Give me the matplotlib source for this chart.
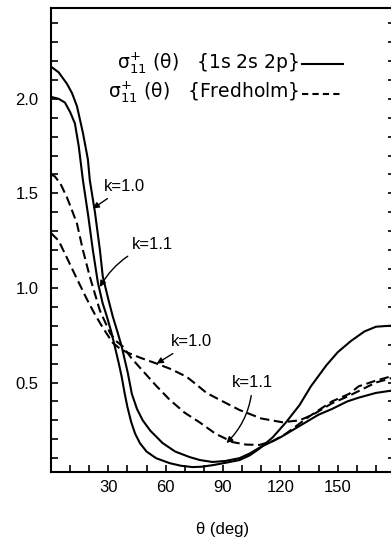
import numpy as np
import matplotlib
matplotlib.use("Agg")
import matplotlib.pyplot as plt

plt.rcParams['font.family'] = ['Liberation Sans', 'DejaVu Sans']
plt.rcParams['mathtext.fontset'] = 'dejavusans'

# sigma_11^+(theta), 1s 2s 2p basis
th_s10 = [0, 4, 8.3, 11, 13.6, 16.7, 19.3, 20.3, 23, 25.6, 27.1, 30, 32.3, 35, 37, 40.2, 42.3, 45, 48, 52, 58.4, 65, 72.5, 78, 84.5, 91, 98.6, 104, 109, 120, 130, 140, 147, 155, 161, 170, 180]
s10 = [2.17, 2.14, 2.08, 2.03, 1.96, 1.82, 1.68, 1.57, 1.40, 1.20, 1.06, 0.94, 0.85, 0.76, 0.69, 0.55, 0.44, 0.36, 0.30, 0.245, 0.18, 0.135, 0.106, 0.09, 0.08, 0.085, 0.10, 0.125, 0.155, 0.21, 0.27, 0.33, 0.36, 0.40, 0.42, 0.445, 0.46]
th_s11 = [0, 4, 7.3, 10, 12.5, 14.5, 16.7, 19.5, 21.9, 24.5, 27, 29.2, 31.5, 33.4, 35.5, 37, 38.6, 40, 42, 44, 46.5, 50, 55, 62, 68, 74, 79, 84.5, 91, 98.6, 104, 109, 116, 123, 130, 136, 144, 150, 157, 164, 170, 177, 180]
s11 = [2.01, 2.00, 1.98, 1.93, 1.87, 1.75, 1.57, 1.38, 1.20, 1.03, 0.92, 0.85, 0.77, 0.69, 0.60, 0.53, 0.44, 0.37, 0.29, 0.23, 0.18, 0.135, 0.10, 0.074, 0.06, 0.053, 0.055, 0.063, 0.075, 0.09, 0.115, 0.15, 0.21, 0.29, 0.38, 0.48, 0.59, 0.66, 0.72, 0.77, 0.795, 0.80, 0.80]

# Fredholm
th_f10 = [0, 4, 8.3, 13, 18.8, 23, 27.1, 32.3, 36, 39.6, 47, 55.3, 63, 71, 76, 81.4, 88, 98.6, 110, 121, 130, 137, 147, 156, 163, 170, 177, 180]
f10 = [1.29, 1.25, 1.16, 1.06, 0.94, 0.86, 0.79, 0.71, 0.68, 0.66, 0.63, 0.60, 0.57, 0.53, 0.49, 0.445, 0.41, 0.355, 0.31, 0.29, 0.30, 0.33, 0.39, 0.43, 0.465, 0.50, 0.52, 0.53]
th_f11 = [0, 2, 5, 8.3, 11, 13.6, 16.7, 20.3, 25.6, 31, 34, 37.6, 42, 46.4, 55.3, 62, 70, 77.7, 86, 95, 102, 109, 116, 123, 135, 147, 156, 161, 170, 177, 180]
f11 = [1.60, 1.59, 1.55, 1.48, 1.41, 1.34, 1.20, 1.06, 0.88, 0.76, 0.72, 0.69, 0.63, 0.58, 0.48, 0.41, 0.34, 0.29, 0.23, 0.185, 0.172, 0.17, 0.19, 0.23, 0.32, 0.40, 0.44, 0.48, 0.51, 0.53, 0.535]

xticks = [30, 60, 90, 120, 150]
yticks = [0.5, 1.0, 1.5, 2.0]

fig = plt.figure(figsize=(3.91, 5.42), dpi=100)
ax = fig.add_axes([51/391, 70/542, 344/391, 464/542])

lw = 1.5
ax.plot(th_s10, s10, color='black', lw=lw)
ax.plot(th_s11, s11, color='black', lw=lw)
ax.plot(th_f10, f10, color='black', lw=lw, dashes=(4.5, 2.2))
ax.plot(th_f11, f11, color='black', lw=lw, dashes=(4.5, 2.2))

ax.set_xlim(0, 180)
ax.set_ylim(0.027, 2.48)
ax.set_xticks(xticks)
ax.set_xticks(np.arange(10, 180, 10), minor=True)
ax.set_yticks(yticks)
ax.set_yticks(np.arange(0.1, 2.45, 0.1), minor=True)
ax.set_yticklabels(['%.1f' % v for v in yticks])
ax.tick_params(which='both', direction='in', length=5, width=1.2,
               right=True, top=False, labelsize=12)
ax.tick_params(axis='y', pad=9)
ax.tick_params(axis='x', pad=6)
for s in ax.spines.values():
    s.set_linewidth(1.5)

ax.set_xlabel('θ (deg)', fontsize=12)
ax.xaxis.set_label_coords(0.5, -0.108)

# legend drawn as text + sample lines
ax.text(0.722, 0.882, 'σ$_{11}^{+}$ (θ)   {1s 2s 2p}', transform=ax.transAxes,
        ha='right', va='center', fontsize=13.5, family='DejaVu Sans')
ax.text(0.722, 0.819, 'σ$_{11}^{+}$ (θ)   {Fredholm}', transform=ax.transAxes,
        ha='right', va='center', fontsize=13.5, family='DejaVu Sans')
ax.plot([0.730, 0.849], [0.879, 0.879], transform=ax.transAxes, color='black', lw=lw)
ax.plot([0.730, 0.849], [0.815, 0.815], transform=ax.transAxes, color='black', lw=lw, dashes=(3, 2))

arr = dict(arrowstyle='-|>', color='black', lw=1, mutation_scale=9, shrinkA=2, shrinkB=0)
ax.annotate('k=1.0', xy=(21.9, 1.42), xytext=(38.6, 1.535), ha='center', va='center', fontsize=12, arrowprops=arr)
ax.annotate('k=1.1', xy=(25.6, 1.005), xytext=(53.2, 1.23), ha='center', va='center', fontsize=12,
            arrowprops=dict(arr, connectionstyle='arc3,rad=0.2'))
ax.annotate('k=1.0', xy=(55.3, 0.60), xytext=(73.6, 0.715), ha='center', va='center', fontsize=12, arrowprops=arr)
ax.annotate('k=1.1', xy=(91.8, 0.18), xytext=(105.4, 0.50), ha='center', va='center', fontsize=12,
            arrowprops=dict(arr, connectionstyle='arc3,rad=-0.2'))

fig.savefig('out.png', dpi=100)
